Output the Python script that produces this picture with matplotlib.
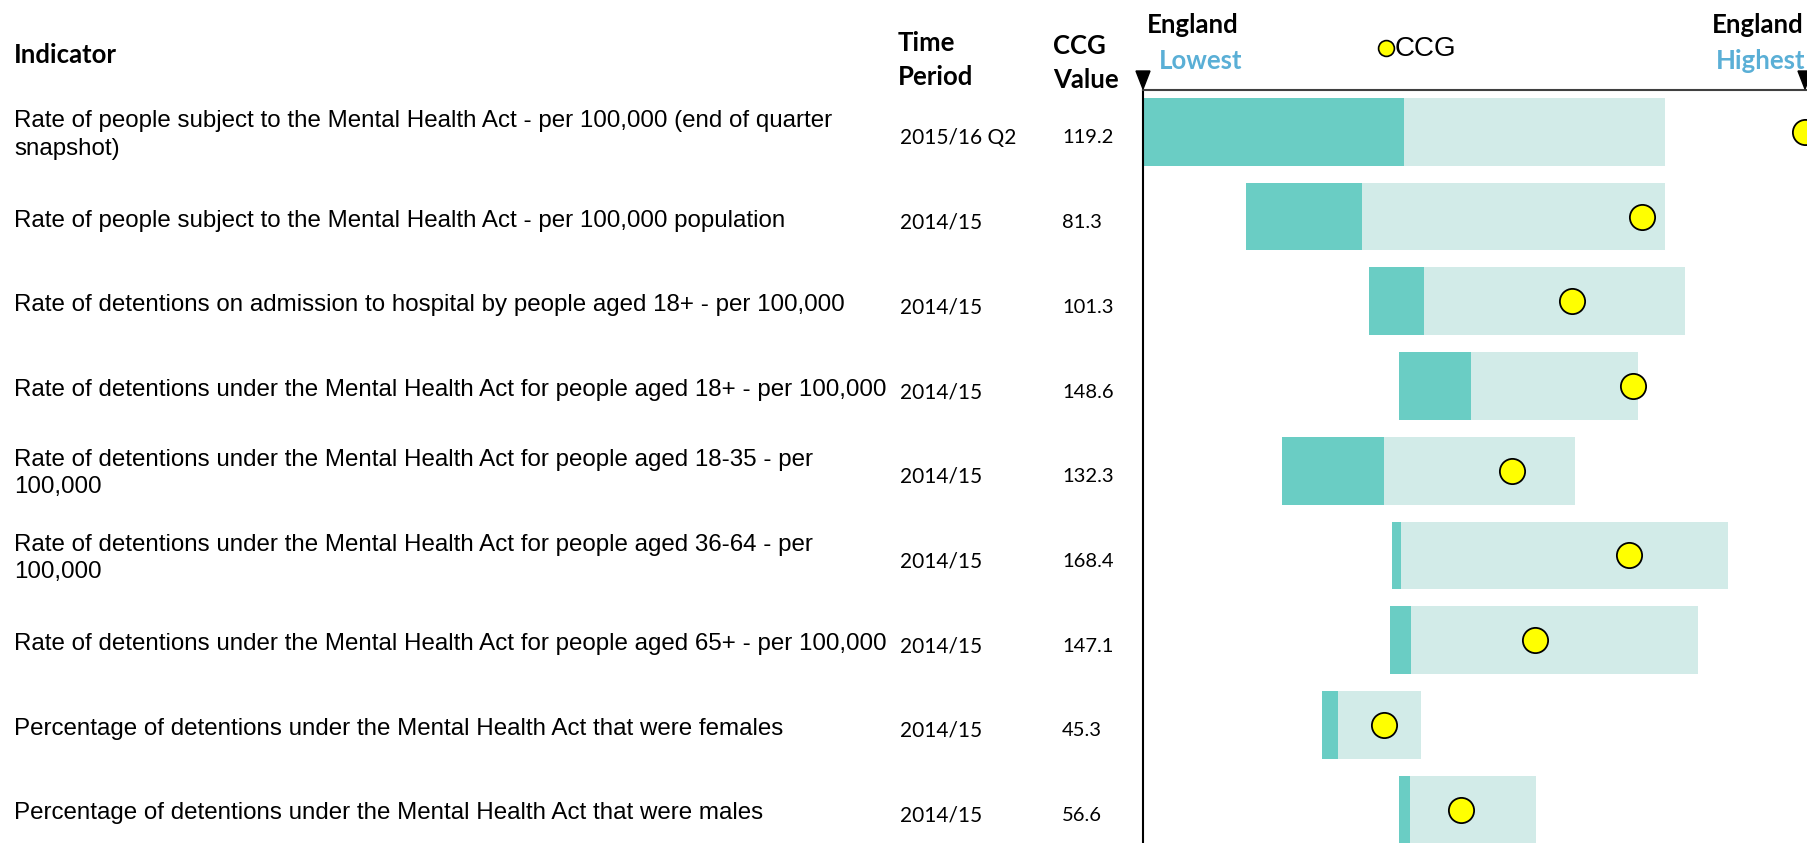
import matplotlib
matplotlib.use("Agg")
import matplotlib.pyplot as plt
from matplotlib.patches import Polygon

W, H = 1808, 843

indicators = [
    "Rate of people subject to the Mental Health Act - per 100,000 (end of quarter\nsnapshot)",
    "Rate of people subject to the Mental Health Act - per 100,000 population",
    "Rate of detentions on admission to hospital by people aged 18+ - per 100,000",
    "Rate of detentions under the Mental Health Act for people aged 18+ - per 100,000",
    "Rate of detentions under the Mental Health Act for people aged 18-35 - per\n100,000",
    "Rate of detentions under the Mental Health Act for people aged 36-64 - per\n100,000",
    "Rate of detentions under the Mental Health Act for people aged 65+ - per 100,000",
    "Percentage of detentions under the Mental Health Act that were females",
    "Percentage of detentions under the Mental Health Act that were males",
]
periods = ["2015/16 Q2", "2014/15", "2014/15", "2014/15", "2014/15",
           "2014/15", "2014/15", "2014/15", "2014/15"]
ccg_values = ["119.2", "81.3", "101.3", "148.6", "132.3", "168.4", "147.1", "45.3", "56.6"]

# positions scaled so England lowest = 0, England highest = 1
range_start = [0.000, 0.156, 0.342, 0.386, 0.210, 0.376, 0.373, 0.270, 0.386]
range_mid = [0.395, 0.331, 0.424, 0.496, 0.364, 0.390, 0.405, 0.295, 0.404]
range_end = [0.789, 0.788, 0.818, 0.748, 0.652, 0.884, 0.839, 0.420, 0.594]
ccg_pos = [1.000, 0.754, 0.648, 0.740, 0.558, 0.734, 0.592, 0.364, 0.481]

dark = "#6ACDC4"
light = "#D2EBE8"
blue = "#5AAFD6"


def fx(px):
    return px / W


def fy(py):
    return 1 - py / H


fig = plt.figure(figsize=(W / 100, H / 100), dpi=100)

# chart area: left edge at England lowest, top line at y=90px
ax_left, ax_top = 1143, 90
ax = fig.add_axes([fx(ax_left), 0, fx(W - ax_left), fy(ax_top)])
ax.set_xlim(0, (W - ax_left) / 662)
row0, pitch = 131.9, 84.7
ax.set_ylim((H - row0) / pitch, (ax_top - row0) / pitch)

rows = range(len(indicators))
ax.barh(rows, [e - s for s, e in zip(range_start, range_end)], left=range_start,
        height=0.8, color=light)
ax.barh(rows, [m - s for s, m in zip(range_start, range_mid)], left=range_start,
        height=0.8, color=dark)
ax.scatter(ccg_pos, list(rows), s=330, color="#FFFF00", edgecolor="black",
           linewidth=1.3, zorder=3, clip_on=False)

for side in ["right", "bottom"]:
    ax.spines[side].set_visible(False)
ax.spines["left"].set_color("black")
ax.spines["left"].set_linewidth(1.5)
ax.spines["top"].set_color("#404040")
ax.spines["top"].set_linewidth(1.5)
ax.set_xticks([])
ax.set_yticks([])

# marker triangles for England lowest / highest
for x0 in [1143, 1805]:
    tri = Polygon([(fx(x0 - 7), fy(71)), (fx(x0 + 7), fy(71)), (fx(x0), fy(89))],
                  closed=True, color="black", transform=fig.transFigure, clip_on=False)
    fig.patches.append(tri)

calibri = ["Lato", "DejaVu Sans"]
arial = ["Liberation Sans", "DejaVu Sans"]
hsize = 18.5

# column headers
fig.text(fx(14), fy(55), "Indicator", family=calibri, weight="bold", fontsize=hsize, va="center")
fig.text(fx(898), fy(43), "Time", family=calibri, weight="bold", fontsize=hsize, va="center")
fig.text(fx(898), fy(77), "Period", family=calibri, weight="bold", fontsize=hsize, va="center")
fig.text(fx(1053), fy(46), "CCG", family=calibri, weight="bold", fontsize=hsize, va="center")
fig.text(fx(1053), fy(80), "Value", family=calibri, weight="bold", fontsize=hsize, va="center")

fig.text(fx(1147), fy(25), "England", family=calibri, weight="bold", fontsize=hsize, va="center")
fig.text(fx(1159), fy(61), "Lowest", family=calibri, weight="bold", fontsize=hsize,
         va="center", color=blue)
fig.text(fx(1712), fy(25), "England", family=calibri, weight="bold", fontsize=hsize, va="center")
fig.text(fx(1716), fy(61), "Highest", family=calibri, weight="bold", fontsize=hsize,
         va="center", color=blue)

# legend
leg_ax = fig.add_axes([0, 0, 1, 1], facecolor="none")
leg_ax.set_xlim(0, W)
leg_ax.set_ylim(H, 0)
leg_ax.axis("off")
leg_ax.scatter([1386], [48], s=130, color="#FFFF00", edgecolor="black", linewidth=1.2)
fig.text(fx(1395), fy(49), "CCG", family=arial, fontsize=20, va="center")

# table columns
for i in rows:
    y = row0 + pitch * i
    shift = 3 if "\n" in indicators[i] else 4
    fig.text(fx(14), fy(y + shift), indicators[i], family=arial, fontsize=17.4, va="center",
             linespacing=1.31)
    fig.text(fx(900), fy(y + 6), periods[i], family=calibri, fontsize=15, va="center")
    fig.text(fx(1062), fy(y + 6), ccg_values[i], family=calibri, fontsize=14.5, va="center")

fig.savefig("out.png", dpi=100)
